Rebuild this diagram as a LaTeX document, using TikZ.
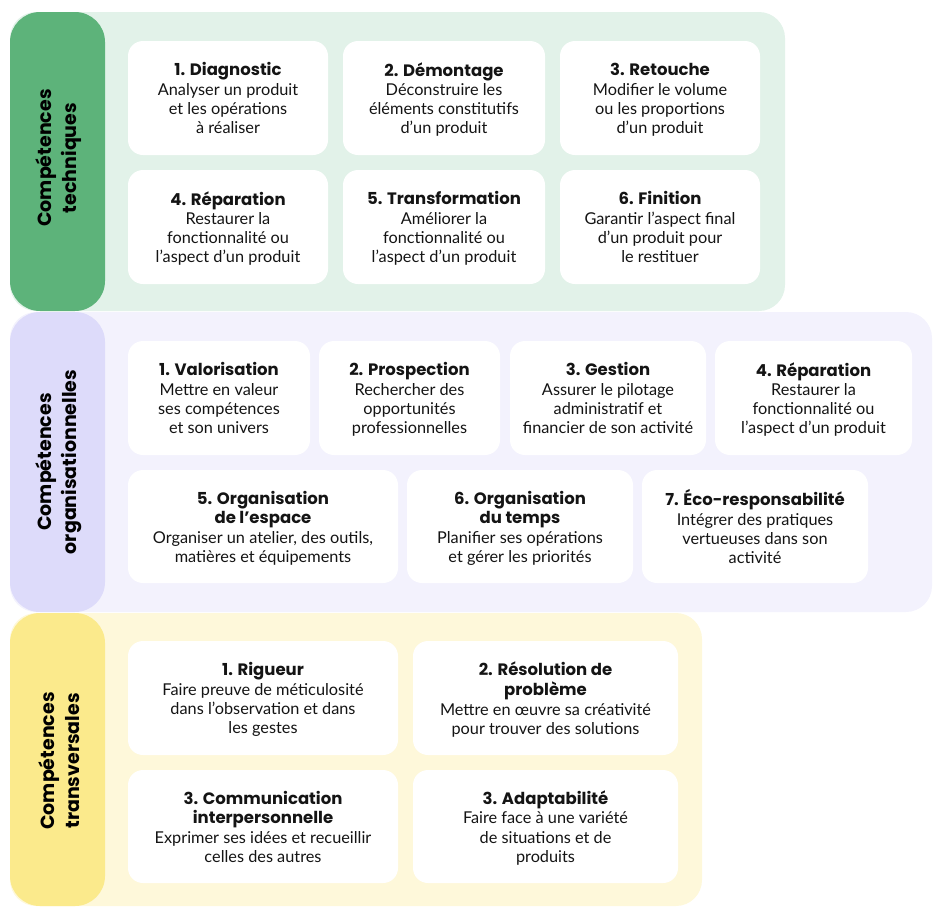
\documentclass[tikz,border=0pt]{standalone}
\usepackage{fontspec}
\setmainfont{Lato}
\newfontfamily\poppins{Poppins}
\definecolor{gtab}{RGB}{93,179,122}
\definecolor{gpan}{RGB}{226,242,233}
\definecolor{ltab}{RGB}{221,219,250}
\definecolor{lpan}{RGB}{243,242,253}
\definecolor{ytab}{RGB}{251,234,140}
\definecolor{ypan}{RGB}{254,248,218}
\definecolor{ink}{RGB}{20,20,20}
\newcommand{\ttl}[1]{{\poppins\bfseries\fontsize{16.5}{19.5}\selectfont #1}}
\tikzset{
  panel/.style={rounded corners=26pt},
  tab/.style={rounded corners=30pt},
  card/.style={fill=white, rounded corners=15pt, inner sep=0pt},
  cardtext/.style={align=center, inner sep=0pt, text=ink,
    font=\fontsize{16.3}{19.3}\selectfont},
  tablabel/.style={rotate=90, align=center, text=black,
    font=\poppins\bfseries\fontsize{19}{25}\selectfont},
}
\newcommand{\card}[6]{%
  \node[card, minimum width=#4pt, minimum height=#5pt] (#1) at (#2,#3) {};
  \node[cardtext] (#1-t) at ([yshift=-3pt]#1.center) {\strut#6\strut};}
\begin{document}
\begin{tikzpicture}[x=1pt, y=-1pt]
\useasboundingbox (0,0) rectangle (934,908);
% panels
\fill[gpan, panel] (10,12) rectangle (785,311);
\fill[lpan, panel] (10,312) rectangle (932,612);
\fill[ypan, panel] (10,613) rectangle (702,906);
% tabs
\fill[gtab, tab] (10,12) rectangle (105,311);
\fill[ltab, tab] (10,312) rectangle (105,612);
\fill[ytab, tab] (10,613) rectangle (105,906);
\node[tablabel] (lt) at (59,158) {Compétences\\techniques};
\node[tablabel] (lo) at (59,462) {Compétences\\organisationnelles};
\node[tablabel] (lx) at (59,761) {Compétences\\transversales};
% techniques
\card{t1}{228}{98}{200}{114}{\ttl{1. Diagnostic}\\Analyser un produit\\et les opérations\\à réaliser}
\card{t2}{444}{98}{202}{114}{\ttl{2. Démontage}\\Déconstruire les\\éléments constitutifs\\d’un produit}
\card{t3}{660}{98}{200}{114}{\ttl{3. Retouche}\\Modifier le volume\\ou les proportions\\d’un produit}
\card{t4}{228}{227}{200}{114}{\ttl{4. Réparation}\\Restaurer la\\fonctionnalité ou\\l’aspect d’un produit}
\card{t5}{444}{227}{202}{114}{\ttl{5. Transformation}\\Améliorer la\\fonctionnalité ou\\l’aspect d’un produit}
\card{t6}{660}{227}{200}{114}{\ttl{6. Finition}\\Garantir l’aspect final\\d’un produit pour\\le restituer}
% organisationnelles
\card{o1}{219}{398}{182}{114}{\ttl{1. Valorisation}\\Mettre en valeur\\ses compétences\\et son univers}
\card{o2}{409.5}{398}{181}{114}{\ttl{2. Prospection}\\Rechercher des\\opportunités\\professionnelles}
\card{o3}{608}{398}{196}{114}{\ttl{3. Gestion}\\Assurer le pilotage\\administratif et\\financier de son activité}
\card{o4}{813.5}{398}{197}{114}{\ttl{4. Réparation}\\Restaurer la\\fonctionnalité ou\\l’aspect d’un produit}
\card{o5}{263}{526.5}{270}{113}{\ttl{5. Organisation}\\\ttl{de l’espace}\\Organiser un atelier, des outils,\\matières et équipements}
\card{o6}{520}{526.5}{226}{113}{\ttl{6. Organisation}\\\ttl{du temps}\\Planifier ses opérations\\et gérer les priorités}
\card{o7}{755}{526.5}{226}{113}{\ttl{7. Éco-responsabilité}\\Intégrer des pratiques\\vertueuses dans son\\activité}
% transversales
\card{x1}{263}{698}{270}{114}{\ttl{1. Rigueur}\\Faire preuve de méticulosité\\dans l’observation et dans\\les gestes}
\card{x2}{545.5}{698}{265}{114}{\ttl{2. Résolution de}\\\ttl{problème}\\Mettre en œuvre sa créativité\\pour trouver des solutions}
\card{x3}{263}{826.5}{270}{113}{\ttl{3. Communication}\\\ttl{interpersonnelle}\\Exprimer ses idées et recueillir\\celles des autres}
\card{x4}{545.5}{826.5}{265}{113}{\ttl{3. Adaptabilité}\\Faire face à une variété\\de situations et de\\produits}
\end{tikzpicture}
\end{document}
